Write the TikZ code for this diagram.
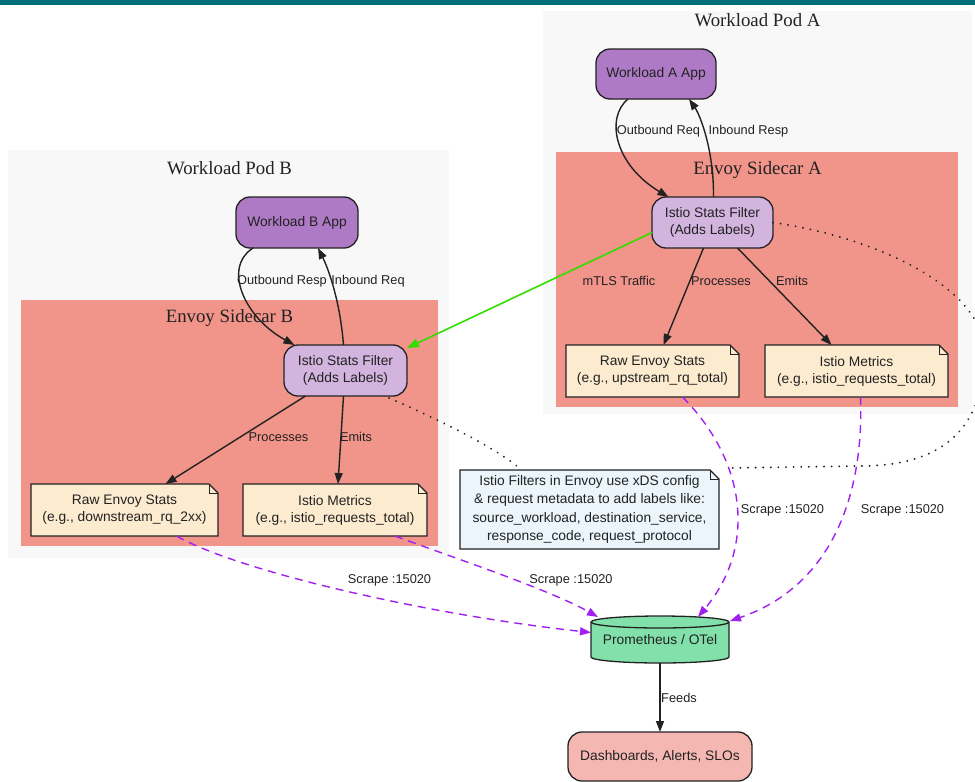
\documentclass[tikz,border=0pt]{standalone}
\usepackage{fontspec}
\setmainfont{Liberation Serif}
\setsansfont{Liberation Sans}
\usetikzlibrary{arrows.meta,calc}
\definecolor{teal0}{HTML}{006F78}
\definecolor{podgray}{HTML}{F8F8F8}
\definecolor{sidecar}{HTML}{F1948A}
\definecolor{appc}{HTML}{AF7AC5}
\definecolor{filterc}{HTML}{D2B4DE}
\definecolor{notec}{HTML}{FDEBD0}
\definecolor{infoc}{HTML}{EBF5FB}
\definecolor{promc}{HTML}{82E0AA}
\definecolor{dashc}{HTML}{F5B7B1}
\definecolor{scrapec}{HTML}{A020F0}
\definecolor{mtlsc}{HTML}{33DD00}
\definecolor{inkc}{HTML}{222222}
\pgfdeclarelayer{bglayer}
\pgfdeclarelayer{shapelayer}
\pgfsetlayers{bglayer,shapelayer,main}
\tikzset{
  box/.style={draw=inkc, line width=1.3pt, rounded corners=14pt, align=center,
    font=\sffamily\fontsize{13.8}{16.5}\selectfont, text=inkc, inner sep=0pt, outer sep=0pt},
  notebox/.style={draw=none, align=center, font=\sffamily\fontsize{13.8}{17}\selectfont,
    text=inkc, inner sep=0pt, outer sep=0pt},
  notebord/.style={draw=inkc, line width=1.3pt, line join=miter},
  edge/.style={draw=inkc, line width=1.4pt, -{Triangle[length=11pt,width=8pt]}},
  scrape/.style={draw=scrapec, line width=1.4pt, dash pattern=on 8pt off 6pt,
    -{Triangle[length=11pt,width=8pt]}},
  dots/.style={draw=inkc, line width=2pt, dash pattern=on 0.1pt off 7.5pt, line cap=round},
  lbl/.style={font=\sffamily\fontsize{12.8}{15}\selectfont, text=inkc, inner sep=0pt},
  ctitle/.style={font=\rmfamily\fontsize{18.8}{22}\selectfont, text=inkc, inner sep=0pt},
}
\newcommand\notedraw[2]{%
  \begin{pgfonlayer}{shapelayer}
  \draw[notebord, fill=#2] (#1.north west) -- ([xshift=-9pt]#1.north east) -- ([yshift=-9pt]#1.north east) -- (#1.south east) -- (#1.south west) -- cycle;
  \draw[notebord, line width=1pt] ([xshift=-9pt]#1.north east) -- ([xshift=-9pt,yshift=-9pt]#1.north east) -- ([yshift=-9pt]#1.north east);
  \end{pgfonlayer}}
\begin{document}
\begin{tikzpicture}[x=1pt,y=-1pt]
\useasboundingbox (0,0) rectangle (975,782);

% background and clusters
\begin{pgfonlayer}{bglayer}
\fill[white] (0,0) rectangle (975,782);
\fill[teal0] (0,0) rectangle (975,5);
\fill[podgray] (543,11) rectangle (972,414);
\fill[sidecar] (556,152) rectangle (958,407);
\fill[podgray] (8,150) rectangle (449,558);
\fill[sidecar] (21,300) rectangle (438,546);
\end{pgfonlayer}
\node[ctitle] (tpa) at (757.5,20) {Workload Pod A};
\node[ctitle] (tsa) at (757.5,170) {Envoy Sidecar A};
\node[ctitle] (tpb) at (229.5,168) {Workload Pod B};
\node[ctitle] (tsb) at (229.5,318) {Envoy Sidecar B};

% nodes
\node[box, fill=appc, minimum width=120pt, minimum height=50pt] (appA) at (656,74) {Workload A App};
\node[box, fill=filterc, minimum width=121pt, minimum height=51pt] (filterA) at (712.5,222.5) {Istio Stats Filter\\(Adds Labels)};
\node[notebox, minimum width=173pt, minimum height=52pt] (rawA) at (652.5,371) {Raw Envoy Stats\\(e.g., upstream\_rq\_total)};
\node[notebox, minimum width=183pt, minimum height=52pt] (metA) at (856.5,371) {Istio Metrics\\(e.g., istio\_requests\_total)};

\node[box, fill=appc, minimum width=122pt, minimum height=51pt] (appB) at (297,222.5) {Workload B App};
\node[box, fill=filterc, minimum width=123pt, minimum height=51pt] (filterB) at (345.5,370.5) {Istio Stats Filter\\(Adds Labels)};
\node[notebox, minimum width=187pt, minimum height=52pt] (rawB) at (124.5,510) {Raw Envoy Stats\\(e.g., downstream\_rq\_2xx)};
\node[notebox, minimum width=184pt, minimum height=52pt] (metB) at (335,510) {Istio Metrics\\(e.g., istio\_requests\_total)};

\node[notebox, minimum width=259pt, minimum height=79pt, font=\sffamily\fontsize{13.8}{18.6}\selectfont] (info) at (589.5,509.5)
  {Istio Filters in Envoy use xDS config\\\& request metadata to add labels like:\\source\_workload, destination\_service,\\response\_code, request\_protocol};

\node[notebox, minimum width=138pt, minimum height=47pt, font=\sffamily\fontsize{13.8}{16.5}\selectfont] (prom) at (660,639.5) {\raisebox{-3pt}{Prometheus / OTel}};
\node[box, fill=dashc, minimum width=184pt, minimum height=49pt] (dash) at (660,756.5) {Dashboards, Alerts, SLOs};

\notedraw{rawA}{notec}
\notedraw{metA}{notec}
\notedraw{rawB}{notec}
\notedraw{metB}{notec}
\notedraw{info}{infoc}

% cylinder
\begin{pgfonlayer}{shapelayer}
\draw[notebord, fill=promc] ([yshift=-6pt]prom.north west) -- ([yshift=6pt]prom.south west)
  arc[start angle=180, end angle=360, x radius=69pt, y radius=6pt]
  -- ([yshift=-6pt]prom.north east)
  arc[start angle=0, end angle=180, x radius=69pt, y radius=6pt] -- cycle;
\draw[notebord] ([yshift=-6pt]prom.north west) arc[start angle=180, end angle=360, x radius=69pt, y radius=6pt];
\end{pgfonlayer}

% pod A edges
\draw[edge] ([xshift=-28pt]appA.south) .. controls (605,118) and (615,165) .. ([xshift=-44pt]filterA.north)
  node[lbl] (lOutA) at (658.5,131) {Outbound Req};
\draw[edge] ([xshift=1pt]filterA.north) .. controls (714,150) and (700,115) .. ([xshift=33pt]appA.south)
  node[lbl] (lInA) at (748.5,131) {Inbound Resp};
\draw[edge] ([xshift=-9pt]filterA.south) -- ([xshift=11pt]rawA.north)
  node[lbl] (lProcA) at (721,281) {Processes};
\draw[edge] ([xshift=25pt]filterA.south) -- ([xshift=-25pt]metA.north)
  node[lbl] (lEmA) at (792,281) {Emits};

% mTLS
\draw[draw=mtlsc, line width=1.6pt, -{Triangle[length=12pt,width=9pt]}] ([yshift=-10pt]filterA.west) -- ([yshift=-3pt]filterB.north east)
  node[lbl] (lmtls) at (619,281) {mTLS Traffic};

% pod B edges
\draw[edge] ([xshift=-44pt]appB.south) .. controls (222,268) and (245,318) .. ([xshift=-51pt]filterB.north)
  node[lbl] (lOutB) at (282,281) {Outbound Resp};
\draw[edge] ([xshift=-2pt]filterB.north) .. controls (340,300) and (328,268) .. ([xshift=21pt]appB.south)
  node[lbl] (lInB) at (368,281) {Inbound Req};
\draw[edge] ([xshift=-40pt]filterB.south) -- ([xshift=41pt]rawB.north)
  node[lbl] (lProcB) at (278.5,437) {Processes};
\draw[edge] ([xshift=-2pt]filterB.south) -- ([xshift=3pt]metB.north)
  node[lbl] (lEmB) at (356,437) {Emits};

% dotted annotations
\draw[dots] ([xshift=-18pt,yshift=-2pt]filterB.south east) .. controls (440,420) and (500,450) .. ([xshift=-68pt]info.north);
\draw[dots] (filterA.east) .. controls (880,238) and (990,290) .. (985,360)
  .. controls (980,440) and (930,466) .. (860,466) -- ([xshift=10pt,yshift=2pt]info.north east);

% scrape edges
\draw[scrape] ([xshift=52pt]rawB.south) .. controls (240,572) and (430,615) .. ([yshift=7pt]prom.west)
  node[lbl] (lsc1) at (389.5,580) {Scrape :15020};
\draw[scrape] ([xshift=60pt]metB.south) .. controls (460,560) and (550,590) .. ([xshift=7pt,yshift=-1pt]prom.north west)
  node[lbl] (lsc2) at (571,580) {Scrape :15020};
\draw[scrape] ([xshift=30pt]rawA.south) .. controls (745,460) and (758,545) .. ([xshift=38pt,yshift=-1pt]prom.north)
  node[lbl] (lsc3) at (782.5,510) {Scrape :15020};
\draw[scrape] ([xshift=4pt]metA.south) .. controls (864,490) and (835,585) .. ([xshift=1pt,yshift=-5pt]prom.north east)
  node[lbl] (lsc4) at (902.5,510) {Scrape :15020};

% feeds
\draw[edge] (prom.south) -- (dash.north)
  node[lbl] (lfeeds) at (679,698) {Feeds};
\end{tikzpicture}
\end{document}
